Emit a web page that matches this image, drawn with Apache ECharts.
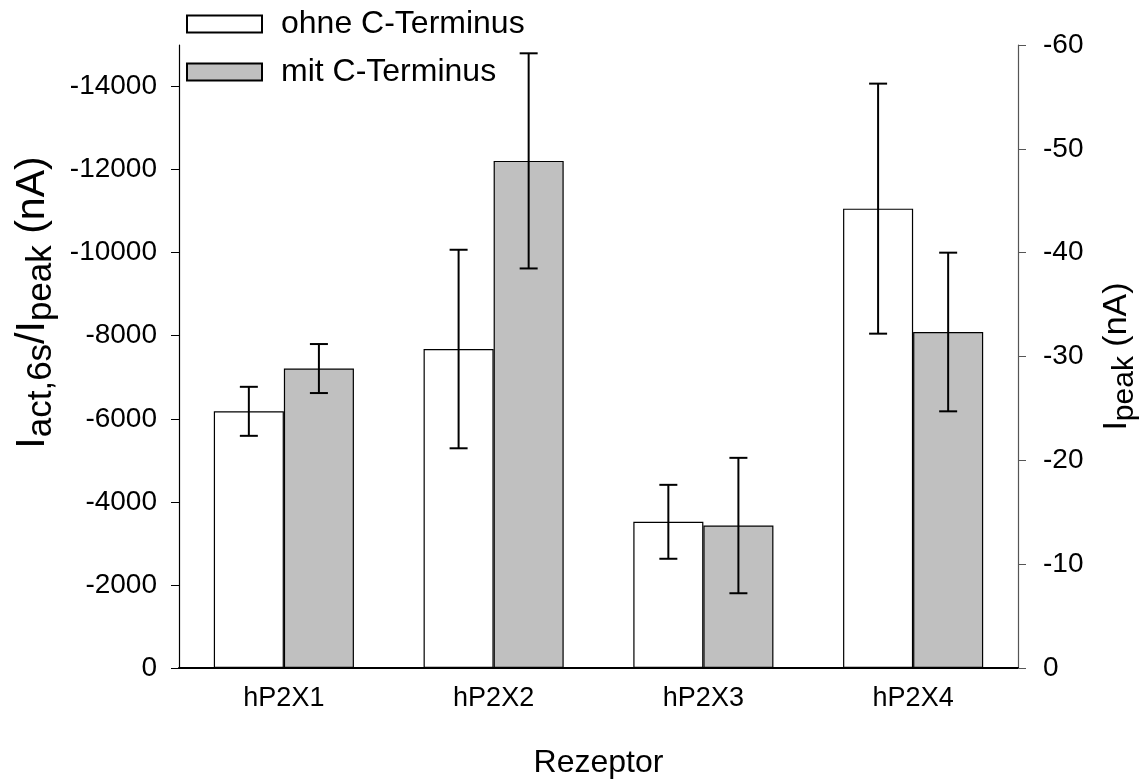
<!DOCTYPE html>
<html>
<head>
<meta charset="utf-8">
<script src="https://cdn.jsdelivr.net/npm/echarts@6/dist/echarts.min.js"></script>
<style>
  html, body { margin: 0; padding: 0; background: #fff; }
  #chart { width: 1143px; height: 783px; }
</style>
</head>
<body>
<div id="chart"></div>
<script>
// Receptor variants on the category axis
const categories = ['hP2X1', 'hP2X2', 'hP2X3', 'hP2X4'];
// Mean current (nA) and its error, without C-terminus
const ohneMean = [-6180, -7680, -3520, -11060];
const ohneErr  = [590, 2390, 890, 3010];
// Mean current (nA) and its error, with C-terminus
const mitMean = [-7210, -12210, -3430, -8090];
const mitErr  = [590, 2590, 1630, 1910];
// Tick labels of the two value axes
const leftTicks  = [0, -2000, -4000, -6000, -8000, -10000, -12000, -14000];
const rightTicks = [0, -10, -20, -30, -40, -50, -60];

const FONT = '"Liberation Sans", Arial, sans-serif';
const BAR_FRAC = 0.334;

const chart = echarts.init(document.getElementById('chart'), null, { renderer: 'canvas' });

// Vertical error bar with caps, offset onto the matching bar of each group
function errorSeries(name, means, errs, side) {
  return {
    type: 'custom',
    name: name + ' err',
    yAxisIndex: 0,
    z: 10,
    silent: true,
    data: means.map((m, i) => [i, m, errs[i]]),
    renderItem: function (params, api) {
      const i = api.value(0), m = api.value(1), e = api.value(2);
      const band = api.size([1, 0])[0];
      const center = api.coord([i, m])[0] + side * band * BAR_FRAC / 2;
      const hi = api.coord([i, m - e])[1];
      const lo = api.coord([i, m + e])[1];
      const cap = 9;
      const style = { stroke: '#000', lineWidth: 2, fill: null };
      return {
        type: 'group',
        children: [
          { type: 'line', shape: { x1: center, y1: hi, x2: center, y2: lo }, style },
          { type: 'line', shape: { x1: center - cap, y1: hi, x2: center + cap, y2: hi }, style },
          { type: 'line', shape: { x1: center - cap, y1: lo, x2: center + cap, y2: lo }, style }
        ]
      };
    }
  };
}

// Rich styles for axis titles: main letters and lowered subscripts
function titleRich(main, sub, drop) {
  return {
    m: { fontSize: main, fontFamily: FONT, color: '#000', lineHeight: main + 2, verticalAlign: 'top' },
    s: { fontSize: sub, fontFamily: FONT, color: '#000', lineHeight: sub + 1, verticalAlign: 'top', padding: [drop, 0, 0, 0] }
  };
}

chart.setOption({
  animation: false,
  backgroundColor: '#fff',
  textStyle: { fontFamily: FONT, color: '#000' },
  grid: { left: 179, right: 125, top: 45, bottom: 115, containLabel: false, outerBoundsMode: 'none' },
  legend: {
    orient: 'vertical',
    left: 186,
    top: 8,
    padding: 0,
    itemWidth: 75,
    itemHeight: 17,
    itemGap: 16,
    icon: 'rect',
    data: ['ohne C-Terminus', 'mit C-Terminus'],
    textStyle: { fontSize: 32, lineHeight: 32, fontFamily: FONT, color: '#000', padding: [0, 0, 0, 14] }
  },
  xAxis: {
    type: 'category',
    data: categories,
    name: 'Rezeptor',
    nameLocation: 'middle',
    nameGap: 79,
    nameTextStyle: { fontSize: 32, fontFamily: FONT, color: '#000' },
    axisLine: { lineStyle: { color: '#000', width: 2 } },
    axisTick: { show: false },
    axisLabel: { fontSize: 27, fontFamily: FONT, color: '#000', margin: 17 },
    splitLine: { show: false }
  },
  yAxis: [
    {
      type: 'value',
      position: 'left',
      min: -15000,
      max: 0,
      inverse: true,
      name: '{m|I}{s|act,6s}{m|/I}{s|peak}{m| (nA)}',
      nameLocation: 'middle',
      nameRotate: 90,
      nameGap: 124,
      nameTextStyle: { rich: titleRich(41, 35, 12), padding: [0, 0, 0, 108] },
      axisLine: { show: true, lineStyle: { color: '#000', width: 1.2 } },
      axisTick: { show: true, inside: false, length: 8, lineStyle: { color: '#000' }, customValues: leftTicks },
      axisLabel: {
        fontSize: 28, fontFamily: FONT, color: '#000', margin: 22, customValues: leftTicks,
        formatter: v => String(v)
      },
      splitLine: { show: false }
    },
    {
      type: 'value',
      position: 'right',
      min: -60,
      max: 0,
      interval: 10,
      inverse: true,
      name: '{m|I}{s|peak}{m| (nA)}',
      nameLocation: 'middle',
      nameRotate: 90,
      nameGap: 82,
      nameTextStyle: { rich: titleRich(34, 30, 10) },
      axisLine: { show: true, lineStyle: { color: '#555', width: 1.2 } },
      axisTick: { show: true, inside: false, length: 8, lineStyle: { color: '#555' }, customValues: rightTicks },
      axisLabel: {
        fontSize: 28, fontFamily: FONT, color: '#000', margin: 25, customValues: rightTicks,
        formatter: v => String(v)
      },
      splitLine: { show: false }
    }
  ],
  series: [
    {
      type: 'bar',
      name: 'ohne C-Terminus',
      yAxisIndex: 0,
      data: ohneMean,
      barWidth: (BAR_FRAC * 100) + '%',
      barGap: '0%',
      itemStyle: { color: '#ffffff', borderColor: '#000', borderWidth: 1.2 }
    },
    {
      type: 'bar',
      name: 'mit C-Terminus',
      yAxisIndex: 0,
      data: mitMean,
      barWidth: (BAR_FRAC * 100) + '%',
      barGap: '0%',
      itemStyle: { color: '#c0c0c0', borderColor: '#000', borderWidth: 1.2 }
    },
    errorSeries('ohne C-Terminus', ohneMean, ohneErr, -1),
    errorSeries('mit C-Terminus', mitMean, mitErr, 1)
  ]
});
</script>
</body>
</html>
